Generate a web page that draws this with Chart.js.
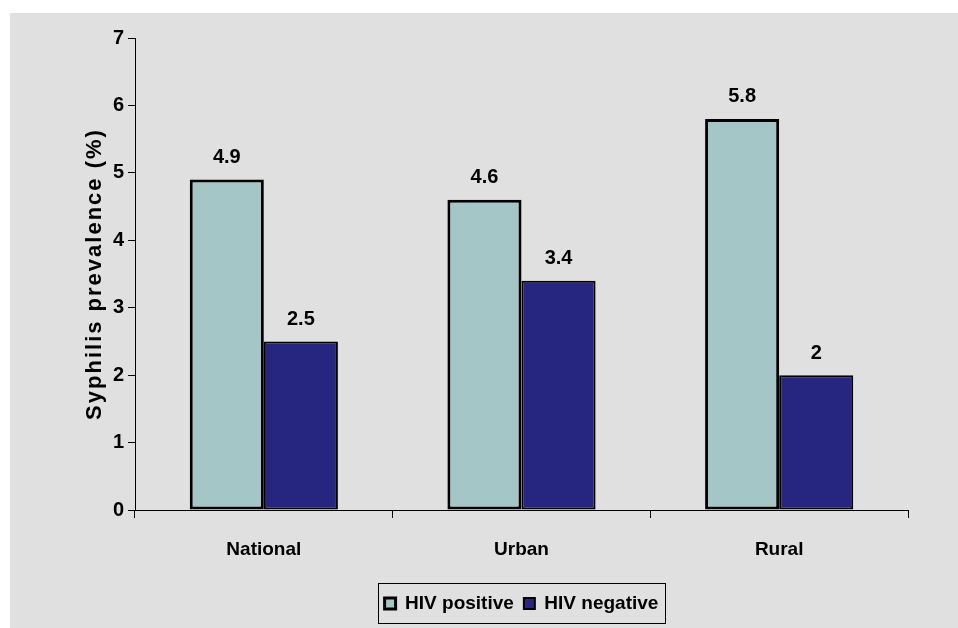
<!DOCTYPE html>
<html>
<head>
<meta charset="utf-8">
<script src="https://cdn.jsdelivr.net/npm/chart.js@4/dist/chart.umd.min.js"></script>
<style>
  html, body { margin: 0; padding: 0; background: #fff; }
  #wrap { width: 958px; height: 628px; }
</style>
</head>
<body>
<div id="wrap"><canvas id="syphChart" width="958" height="628"></canvas></div>
<script>
var categories = ['National', 'Urban', 'Rural'];
var hivPositive = [4.9, 4.6, 5.8];
var hivNegative = [2.5, 3.4, 2];
var yTicks = [0, 1, 2, 3, 4, 5, 6, 7];

var FONT = '"Liberation Sans", Arial, sans-serif';

// gray panel behind the chart, white strip on top/left
var panelBg = {
    id: 'panelBg',
    beforeDraw: function (chart) {
        var c = chart.ctx;
        c.save();
        c.fillStyle = '#ffffff';
        c.fillRect(0, 0, chart.width, chart.height);
        c.fillStyle = '#e0e0e0';
        c.fillRect(10, 13, chart.width - 10, chart.height - 13);
        c.restore();
    }
};

// values above bars + rotated y title + legend frame
var extras = {
    id: 'extras',
    afterLayout: function (chart) {
        // center the legend under the plot area, not the whole canvas
        var lg = chart.legend;
        if (!lg) return;
        var area = chart.chartArea;
        var d = (area.left + area.right) / 2 - (lg.left + lg.right) / 2;
        lg.left += d;
        lg.right += d;
    },
    afterDatasetsDraw: function (chart) {
        var c = chart.ctx;
        c.save();
        c.font = 'bold 20px ' + FONT;
        c.fillStyle = '#000';
        c.textAlign = 'center';
        c.textBaseline = 'bottom';
        chart.data.datasets.forEach(function (ds, i) {
            chart.getDatasetMeta(i).data.forEach(function (bar, j) {
                c.fillText(String(ds.data[j]), bar.x, bar.y - 12);
            });
        });
        c.restore();
    },
    afterDraw: function (chart) {
        var c = chart.ctx;
        var area = chart.chartArea;
        c.save();
        c.translate(95, (area.top + area.bottom) / 2);
        c.rotate(-Math.PI / 2);
        c.font = 'bold 22px ' + FONT;
        c.letterSpacing = '2px';
        c.fillStyle = '#000';
        c.textAlign = 'center';
        c.textBaseline = 'middle';
        c.fillText('Syphilis prevalence (%)', 0, 0);
        c.restore();

        var lg = chart.legend;
        if (lg && lg.legendHitBoxes && lg.legendHitBoxes.length) {
            var boxes = lg.legendHitBoxes;
            var x0 = boxes[0].left - 7;
            var last = boxes[boxes.length - 1];
            var x1 = last.left + last.width + 6;
            var y0 = boxes[0].top - 11;
            var y1 = boxes[0].top + boxes[0].height + 10;
            c.save();
            c.strokeStyle = '#000';
            c.lineWidth = 1;
            c.strokeRect(Math.round(x0) + 0.5, Math.round(y0) + 0.5, Math.round(x1 - x0), Math.round(y1 - y0));
            c.restore();
        }
    }
};

var ctx = document.getElementById('syphChart').getContext('2d');
var syphChart = new Chart(ctx, {
    type: 'bar',
    data: {
        labels: categories,
        datasets: [{
            label: 'HIV positive',
            data: hivPositive,
            backgroundColor: '#a5c6c7',
            borderColor: '#000000',
            borderWidth: 3,
            borderSkipped: false
        }, {
            label: 'HIV negative',
            data: hivNegative,
            backgroundColor: '#262680',
            borderColor: '#000000',
            borderWidth: 2,
            borderSkipped: false
        }]
    },
    options: {
        responsive: false,
        animation: false,
        devicePixelRatio: 1,
        layout: { padding: { top: 38, right: 50, left: 0, bottom: 5 } },
        datasets: {
            bar: { categoryPercentage: 0.575, barPercentage: 1 }
        },
        scales: {
            x: {
                grid: {
                    display: true,
                    drawOnChartArea: false,
                    drawTicks: true,
                    tickLength: 8,
                    color: '#000',
                    offset: true
                },
                border: { display: true, color: '#000', width: 1 },
                ticks: {
                    color: '#000',
                    padding: 20,
                    font: { family: FONT, size: 19, weight: 'bold' }
                },
                afterFit: function (scale) { scale.height = 74; }
            },
            y: {
                min: 0,
                max: 7,
                afterBuildTicks: function (scale) {
                    scale.ticks = yTicks.map(function (v) { return { value: v }; });
                },
                grid: {
                    display: true,
                    drawOnChartArea: false,
                    drawTicks: true,
                    tickLength: 7,
                    color: '#000'
                },
                border: { display: true, color: '#000', width: 1 },
                ticks: {
                    color: '#000',
                    padding: 4,
                    font: { family: FONT, size: 20, weight: 'bold' }
                },
                afterFit: function (scale) { scale.width = 135; }
            }
        },
        plugins: {
            legend: {
                position: 'bottom',
                labels: {
                    color: '#000',
                    boxWidth: 11,
                    boxHeight: 11,
                    padding: 10,
                    font: { family: FONT, size: 19, weight: 'bold' }
                }
            },
            tooltip: { enabled: false }
        }
    },
    plugins: [panelBg, extras]
});
</script>
</body>
</html>
